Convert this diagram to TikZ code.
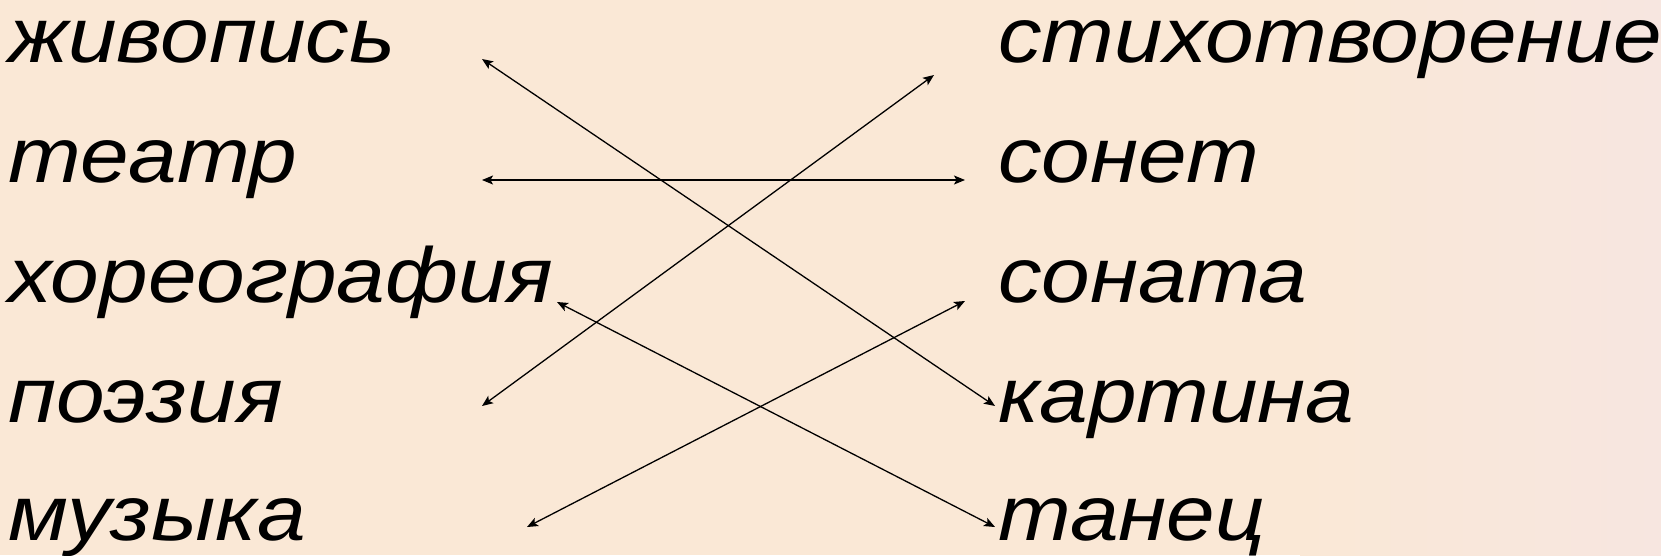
\documentclass[tikz,border=0pt]{standalone}
\usepackage{fontspec}
\setmainfont{Liberation Sans}[FakeStretch=1.12]
\usepackage{tikz}
\usetikzlibrary{arrows.meta}
\definecolor{peach}{RGB}{250,232,214}
\definecolor{blush}{RGB}{247,230,224}

\begin{document}
\begin{tikzpicture}[x=1pt,y=-1pt,
  word/.style={anchor=base west,inner sep=0pt,font=\fontsize{78}{90}\selectfont\itshape},
  tip/.tip={Stealth[length=11pt,width=9pt,inset=2.5pt]},
  link/.style={tip-tip,line width=1.3pt}]
\fill[peach] (0,0) rectangle (1661,555);
\shade[left color=peach,right color=blush] (1300,0) rectangle (1661,555);
\useasboundingbox (0,0) rectangle (1661,555);
% left column
\foreach \n/\y/\w in %
{1/62/живопись,2/182/театр,3/302/хореография,4/422/поэзия,5/540/музыка} {
   \node[word] (l\n) at (8,\y) {\w};
}
% right column
\foreach \n/\y/\w in %
{1/62/стихотворение,2/182/сонет,3/302/соната,4/422/картина,5/540/танец} {
   \node[word] (r\n) at (998,\y) {\w};
}
% arrow ends
\coordinate (l1e) at (482,59);  \coordinate (r1e) at (934,75);
\coordinate (l2e) at (482,180); \coordinate (r2e) at (965,180);
\coordinate (l3e) at (557,302); \coordinate (r3e) at (965,301);
\coordinate (l4e) at (482,406); \coordinate (r4e) at (995,406);
\coordinate (l5e) at (527,527); \coordinate (r5e) at (995,527);
\draw[link] (l1e) -- (r4e);
\draw[link] (l2e) -- (r2e);
\draw[link] (l3e) -- (r5e);
\draw[link] (l4e) -- (r1e);
\draw[link] (l5e) -- (r3e);
\end{tikzpicture}
\end{document}
